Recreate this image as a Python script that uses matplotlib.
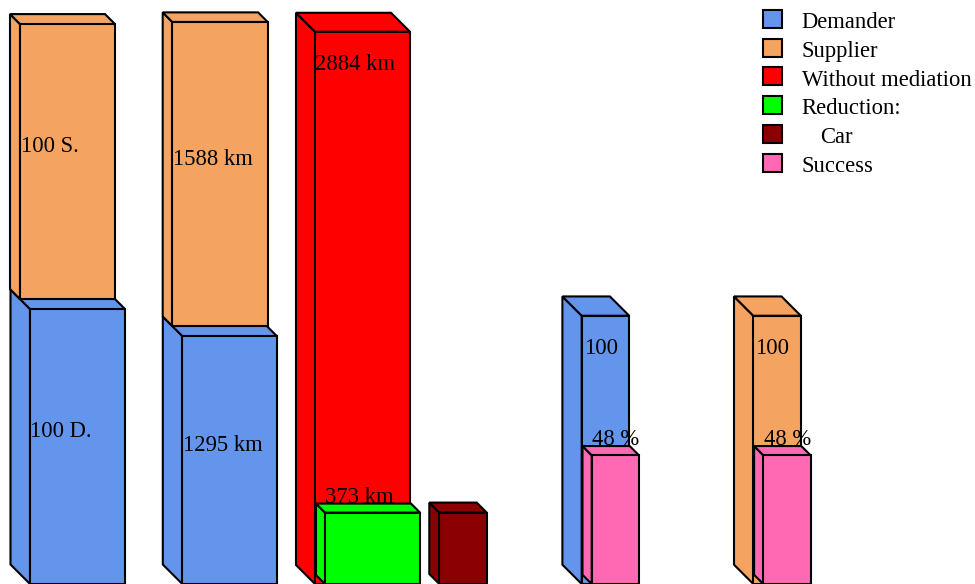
import matplotlib
matplotlib.use("Agg")
import matplotlib.pyplot as plt
from matplotlib.patches import Polygon, Rectangle

# ---- data ----
count_demanders = 100
count_suppliers = 100
km_demander = 1295
km_supplier = 1588
km_without_mediation = 2884
km_reduction = 373
km_car = 373
pct_base = 100
pct_success_demander = 48
pct_success_supplier = 48

legend_labels = ["Demander", "Supplier", "Without mediation", "Reduction:", "Car", "Success"]

C_DEM = "#6495ED"
C_SUP = "#F4A460"
C_WITHOUT = "#FF0000"
C_RED = "#00FF00"
C_CAR = "#8B0000"
C_SUCC = "#FF69B4"
legend_colors = [C_DEM, C_SUP, C_WITHOUT, C_RED, C_CAR, C_SUCC]

W, H, DPI = 975, 584, 100
plt.rcParams["font.family"] = ["Liberation Serif", "DejaVu Serif"]
FS = 16.3
LW = 1.5

fig = plt.figure(figsize=(W / DPI, H / DPI), dpi=DPI)
fig.patch.set_facecolor("white")


def make_axes(ymax):
    ax = fig.add_axes([0, 0, 1, 1])
    ax.set_xlim(0, W)
    ax.set_ylim(0, ymax)
    ax.axis("off")
    ax.patch.set_alpha(0)
    return ax


ax_cnt = make_axes(212.4)    # counts
ax_km = make_axes(3050)      # kilometres
ax_pct = make_axes(217.7)    # percent


def ppu(ax):
    t = ax.transData
    return t.transform((0, 1))[1] - t.transform((0, 0))[1]


def box(ax, x, w, lo, hi, depth, color, lift=0.0):
    """Pseudo-3D bar: front face plus left side and top faces receding up-left."""
    k = ppu(ax)
    dy = depth / k
    lf = lift / k
    y0, y1 = lo + lf, hi + lf
    front = [(x, y0), (x + w, y0), (x + w, y1), (x, y1)]
    side = [(x, y0), (x, y1), (x - depth, y1 + dy), (x - depth, y0 + dy)]
    top = [(x, y1), (x + w, y1), (x + w - depth, y1 + dy), (x - depth, y1 + dy)]
    for poly in (side, top, front):
        ax.add_patch(Polygon(poly, closed=True, facecolor=color, edgecolor="black",
                             linewidth=LW, joinstyle="miter"))
    return y0, y1


def label(ax, x, y, text, dy_px):
    ax.annotate(text, (x, y), xytext=(1, dy_px * 72 / DPI), textcoords="offset points",
                ha="left", va="baseline", fontsize=FS, color="black")


# group 1: demanders / suppliers (stacked)
b0, b1 = box(ax_cnt, 30, 95, 0, count_demanders, 19.5, C_DEM)
o0, o1 = box(ax_cnt, 20, 95, count_demanders, count_demanders + count_suppliers, 10, C_SUP, lift=10)
label(ax_cnt, 29, (b0 + b1) / 2, f"{count_demanders} D.", 9.5)
label(ax_cnt, 20, (o0 + o1) / 2, f"{count_suppliers} S.", 9.5)

# group 2: distances (stacked)
b0, b1 = box(ax_km, 182.3, 94.5, 0, km_demander, 19.5, C_DEM)
o0, o1 = box(ax_km, 172.3, 95.4, km_demander, km_demander + km_supplier, 9.6, C_SUP, lift=10)
label(ax_km, 181.5, (b0 + b1) / 2, f"{km_demander} km", 9.5)
label(ax_km, 171.5, (o0 + o1) / 2, f"{km_supplier} km", 9.5)

# group 3: without mediation vs reduction
r0, r1 = box(ax_km, 315, 95, 0, km_without_mediation, 19, C_WITHOUT)
g0, g1 = box(ax_km, 325, 95, 0, km_reduction, 9, C_RED)
box(ax_km, 439.3, 47.4, 0, km_car, 10, C_CAR)
label(ax_km, 314, r1, f"{km_without_mediation} km", -38)
label(ax_km, 324, g1, f"{km_reduction} km", 10)

# groups 4 and 5: success rates
for x, col, val in ((581.7, C_DEM, pct_success_demander), (753.3, C_SUP, pct_success_supplier)):
    t0, t1 = box(ax_pct, x, 47.5, 0, pct_base, 19.3, col)
    p0, p1 = box(ax_pct, x + 10, 47.2, 0, val, 9.2, C_SUCC)
    label(ax_pct, x + 0.5, t1, f"{pct_base}", -38.7)
    label(ax_pct, x + 9, p1, f"{val} %", 10)

# legend
ax_leg = fig.add_axes([0, 0, 1, 1])
ax_leg.set_xlim(0, W)
ax_leg.set_ylim(H, 0)
ax_leg.axis("off")
ax_leg.patch.set_alpha(0)
for i, (txt, col) in enumerate(zip(legend_labels, legend_colors)):
    top = 10 + i * 28.7
    ax_leg.add_patch(Rectangle((762.7, top), 19, 18, facecolor=col, edgecolor="black", linewidth=LW))
    tx = 820 if txt == "Car" else 801.7
    ax_leg.text(tx, top + 18.3, txt, ha="left", va="baseline", fontsize=FS, color="black")

fig.savefig("out.png", dpi=DPI, facecolor="white")
